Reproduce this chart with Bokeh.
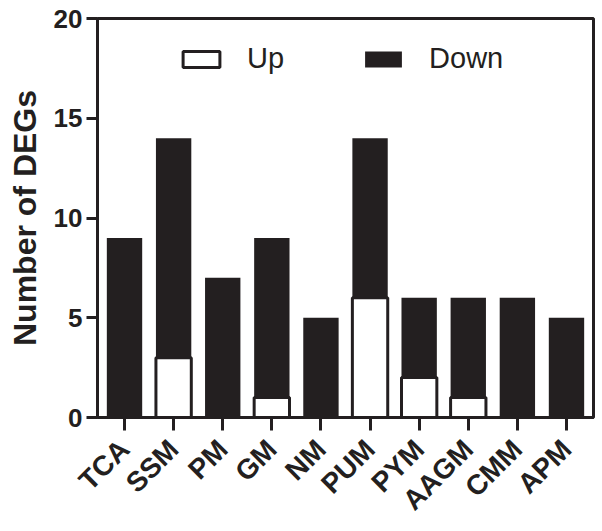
import math
from bokeh.plotting import figure
from bokeh.models import FactorRange, Range1d, FixedTicker, ColumnDataSource, Legend
from bokeh.embed import file_html
from bokeh.resources import INLINE

categories = ["TCA", "SSM", "PM", "GM", "NM", "PUM", "PYM", "AAGM", "CMM", "APM"]
up = [0, 3, 0, 1, 0, 6, 2, 1, 0, 0]
down = [9, 11, 7, 8, 5, 8, 4, 5, 6, 5]
y_ticks = [0, 5, 10, 15, 20]

DARK = "#231f20"
FONT = "Liberation Sans"

source = ColumnDataSource(dict(cats=categories, Up=up, Down=down))

p = figure(
    x_range=FactorRange(factors=categories, range_padding=0.01),
    y_range=Range1d(0, 20),
    width=598, height=531,
    output_backend="svg", toolbar_location=None,
    min_border_left=97, min_border_right=5, min_border_top=18, min_border_bottom=114,
)

renderers = p.vbar_stack(
    ["Up", "Down"], x="cats", width=0.72, source=source,
    fill_color=["white", DARK], line_color=[DARK, DARK], line_width=[3, 0],
)

legend = Legend(
    items=[("Up", [renderers[0]]), ("Down", [renderers[1]])],
    orientation="horizontal", location=(81, 342),
    glyph_width=46, glyph_height=20, label_standoff=23, spacing=76,
    padding=0, margin=0, border_line_color=None, background_fill_alpha=0,
    label_text_font=FONT, label_text_font_size="29px", label_text_color=DARK,
    label_height=20,
)
p.add_layout(legend)

p.grid.visible = False
p.outline_line_color = DARK
p.outline_line_width = 3
p.outline_line_alpha = 1

p.yaxis.ticker = FixedTicker(ticks=y_ticks)
p.yaxis.axis_label = "Number of DEGs"
p.yaxis.axis_label_text_font = FONT
p.yaxis.axis_label_text_font_style = "bold"
p.yaxis.axis_label_text_font_size = "32px"
p.yaxis.axis_label_text_color = DARK
p.yaxis.axis_label_standoff = 8

for ax in (p.xaxis, p.yaxis):
    ax.axis_line_color = DARK
    ax.axis_line_width = 3
    ax.major_tick_line_color = DARK
    ax.major_tick_line_width = 3
    ax.minor_tick_line_color = None
    ax.major_tick_in = 0
    ax.major_label_text_font = FONT
    ax.major_label_text_font_style = "bold"
    ax.major_label_text_color = DARK

p.yaxis.major_tick_out = 11
p.yaxis.major_label_text_font_size = "26px"
p.yaxis.major_label_standoff = 4

p.xaxis.major_tick_out = 13
p.xaxis.major_label_text_font_size = "28px"
p.xaxis.major_label_orientation = math.pi / 4
p.xaxis.major_label_standoff = 14

open("out.html", "w").write(file_html(p, INLINE))
